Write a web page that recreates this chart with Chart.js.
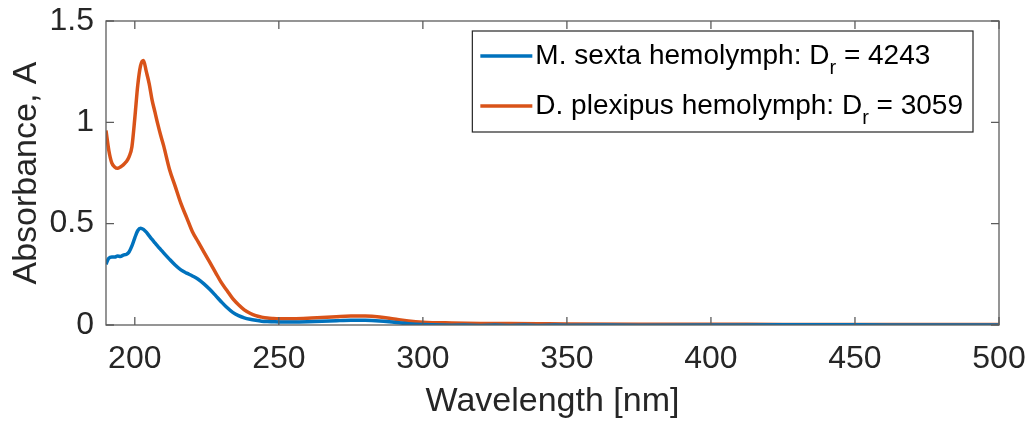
<!DOCTYPE html>
<html>
<head>
<meta charset="utf-8">
<title>Absorbance spectra of hemolymph</title>
<script src="https://cdn.jsdelivr.net/npm/chart.js@4.4.1/dist/chart.umd.min.js"></script>
<style>
  html, body { margin: 0; padding: 0; background: #ffffff; }
  #wrap { width: 1029px; height: 422px; position: relative; }
</style>
</head>
<body>
<div id="wrap"><canvas id="spectra"></canvas></div>
<script>
// Wavelength grid of the sampled spectra [nm]
const wavelengths = [
  190, 191, 192, 193, 194, 195, 196, 197, 198, 199,
  200, 201, 202, 203, 204, 205, 206, 207, 208, 209, 210,
  212, 214, 216, 218, 220, 222, 224, 226, 228, 230,
  232, 234, 236, 238, 240, 242, 244, 246, 248, 250,
  255, 260, 265, 270, 275, 280, 285, 290, 295, 300,
  310, 320, 330, 340, 350,
  375, 400, 425, 450, 475, 500
];

// Absorbance of M. sexta hemolymph
const mSexta = [
  0.300, 0.330, 0.335, 0.335, 0.340, 0.338, 0.345, 0.348, 0.360, 0.390,
  0.430, 0.465, 0.478, 0.472, 0.458, 0.440, 0.422, 0.405, 0.388, 0.372, 0.356,
  0.325, 0.296, 0.272, 0.256, 0.242, 0.226, 0.203, 0.176, 0.146, 0.115,
  0.086, 0.062, 0.046, 0.035, 0.028, 0.023, 0.019, 0.017, 0.016, 0.015,
  0.015, 0.016, 0.018, 0.021, 0.023, 0.023, 0.020, 0.013, 0.006, 0.002,
  -0.001, -0.002, -0.002, -0.002, -0.001,
  -0.001, 0.000, 0.001, 0.001, 0.000, 0.000
];

// Absorbance of D. plexipus hemolymph
const dPlexipus = [
  0.960, 0.860, 0.800, 0.780, 0.773, 0.780, 0.790, 0.805, 0.830, 0.880,
  1.020, 1.180, 1.280, 1.305, 1.250, 1.190, 1.110, 1.050, 0.990, 0.935, 0.885,
  0.770, 0.685, 0.600, 0.530, 0.460, 0.410, 0.360, 0.310, 0.260, 0.210,
  0.170, 0.130, 0.100, 0.075, 0.058, 0.046, 0.039, 0.034, 0.032, 0.031,
  0.031, 0.033, 0.037, 0.041, 0.044, 0.044, 0.040, 0.030, 0.020, 0.014,
  0.010, 0.008, 0.007, 0.006, 0.005,
  0.004, 0.004, 0.003, 0.003, 0.003, 0.002
];

const seriesNames = ['M. sexta hemolymph', 'D. plexipus hemolymph'];
const drValues = [4243, 3059];
const seriesColors = ['#0072BD', '#D95319'];

const xTicks = [200, 250, 300, 350, 400, 450, 500];
const yTicks = [0, 0.5, 1, 1.5];

const FONT = "'Liberation Sans', Arial, Helvetica, sans-serif";
const TEXT_COLOR = '#262626';

function toPoints(values) {
  return wavelengths.map((w, i) => ({ x: w, y: values[i] }));
}

// Axes box with inward tick marks on all four sides
const boxTicks = {
  id: 'boxTicks',
  afterDatasetsDraw(chart) {
    const { ctx, chartArea, scales } = chart;
    const { left, right, top, bottom } = chartArea;
    const len = 8;
    ctx.save();
    ctx.strokeStyle = '#5c5c5c';
    ctx.lineWidth = 1.3;
    ctx.strokeRect(left, top, right - left, bottom - top);
    ctx.beginPath();
    xTicks.forEach(v => {
      const px = scales.x.getPixelForValue(v);
      ctx.moveTo(px, bottom); ctx.lineTo(px, bottom - len);
      ctx.moveTo(px, top); ctx.lineTo(px, top + len);
    });
    yTicks.forEach(v => {
      const py = scales.y.getPixelForValue(v);
      ctx.moveTo(left, py); ctx.lineTo(left + len, py);
      ctx.moveTo(right, py); ctx.lineTo(right - len, py);
    });
    ctx.stroke();
    ctx.restore();
  }
};

// Legend with the subscripted D_r in each entry
const drLegend = {
  id: 'drLegend',
  afterDraw(chart) {
    const { ctx, chartArea } = chart;
    const fs = 28, subFs = 20;
    const mainFont = fs + 'px ' + FONT;
    const subFont = subFs + 'px ' + FONT;
    const rows = seriesNames.map((name, i) => ({
      head: name + ': D', sub: 'r', tail: ' = ' + drValues[i], color: seriesColors[i]
    }));
    const widths = rows.map(r => {
      ctx.font = mainFont;
      let w = ctx.measureText(r.head).width + ctx.measureText(r.tail).width;
      ctx.font = subFont;
      return w + ctx.measureText(r.sub).width;
    });
    const padL = 8, sampleLen = 52, gap = 3, padR = 10;
    const boxW = padL + sampleLen + gap + Math.max(...widths) + padR;
    const boxH = 101, rowH = 50;
    const bx = chartArea.right - 26 - boxW;
    const by = chartArea.top + 10;

    ctx.save();
    ctx.fillStyle = '#ffffff';
    ctx.fillRect(bx, by, boxW, boxH);
    ctx.strokeStyle = '#262626';
    ctx.lineWidth = 1.2;
    ctx.strokeRect(bx, by, boxW, boxH);

    rows.forEach((r, i) => {
      const cy = by + 25 + i * rowH;
      ctx.strokeStyle = r.color;
      ctx.lineWidth = 3.5;
      ctx.beginPath();
      ctx.moveTo(bx + padL, cy);
      ctx.lineTo(bx + padL + sampleLen, cy);
      ctx.stroke();

      let tx = bx + padL + sampleLen + gap;
      ctx.fillStyle = '#000000';
      ctx.textBaseline = 'middle';
      ctx.textAlign = 'left';
      ctx.font = mainFont;
      ctx.fillText(r.head, tx, cy);
      tx += ctx.measureText(r.head).width;
      ctx.font = subFont;
      ctx.fillText(r.sub, tx, cy + 12);
      tx += ctx.measureText(r.sub).width;
      ctx.font = mainFont;
      ctx.fillText(r.tail, tx, cy);
    });
    ctx.restore();
  }
};

new Chart(document.getElementById('spectra'), {
  type: 'line',
  data: {
    datasets: [
      { label: seriesNames[0], data: toPoints(mSexta), borderColor: seriesColors[0] },
      { label: seriesNames[1], data: toPoints(dPlexipus), borderColor: seriesColors[1] }
    ]
  },
  options: {
    responsive: true,
    maintainAspectRatio: false,
    animation: false,
    elements: {
      point: { radius: 0, hoverRadius: 0 },
      line: { borderWidth: 3.5, cubicInterpolationMode: 'monotone', fill: false }
    },
    layout: { padding: { left: 0, right: 30, top: 21, bottom: 0 } },
    plugins: { legend: { display: false }, tooltip: { enabled: false } },
    scales: {
      x: {
        type: 'linear',
        min: 190,
        max: 500,
        afterBuildTicks: s => { s.ticks = xTicks.map(v => ({ value: v })); },
        afterFit: s => { s.height = 97; s.paddingLeft = 0; s.paddingRight = 0; },
        grid: { display: false, drawTicks: false },
        border: { display: false },
        ticks: {
          font: { family: FONT, size: 32 },
          color: TEXT_COLOR,
          padding: 15,
          maxRotation: 0,
          autoSkip: false,
          callback: v => String(v)
        },
        title: {
          display: true,
          text: 'Wavelength [nm]',
          font: { family: FONT, size: 34 },
          color: TEXT_COLOR,
          padding: { top: 0, bottom: 0 }
        }
      },
      y: {
        type: 'linear',
        min: 0,
        max: 1.5,
        afterBuildTicks: s => { s.ticks = yTicks.map(v => ({ value: v })); },
        afterFit: s => { s.width = 106; s.paddingTop = 0; s.paddingBottom = 0; },
        grid: { display: false, drawTicks: false },
        border: { display: false },
        ticks: {
          font: { family: FONT, size: 32 },
          color: TEXT_COLOR,
          padding: 12,
          callback: v => String(v)
        },
        title: {
          display: true,
          text: 'Absorbance, A',
          font: { family: FONT, size: 34 },
          color: TEXT_COLOR,
          padding: { top: 6, bottom: 0 }
        }
      }
    }
  },
  plugins: [boxTicks, drLegend]
});
</script>
</body>
</html>
